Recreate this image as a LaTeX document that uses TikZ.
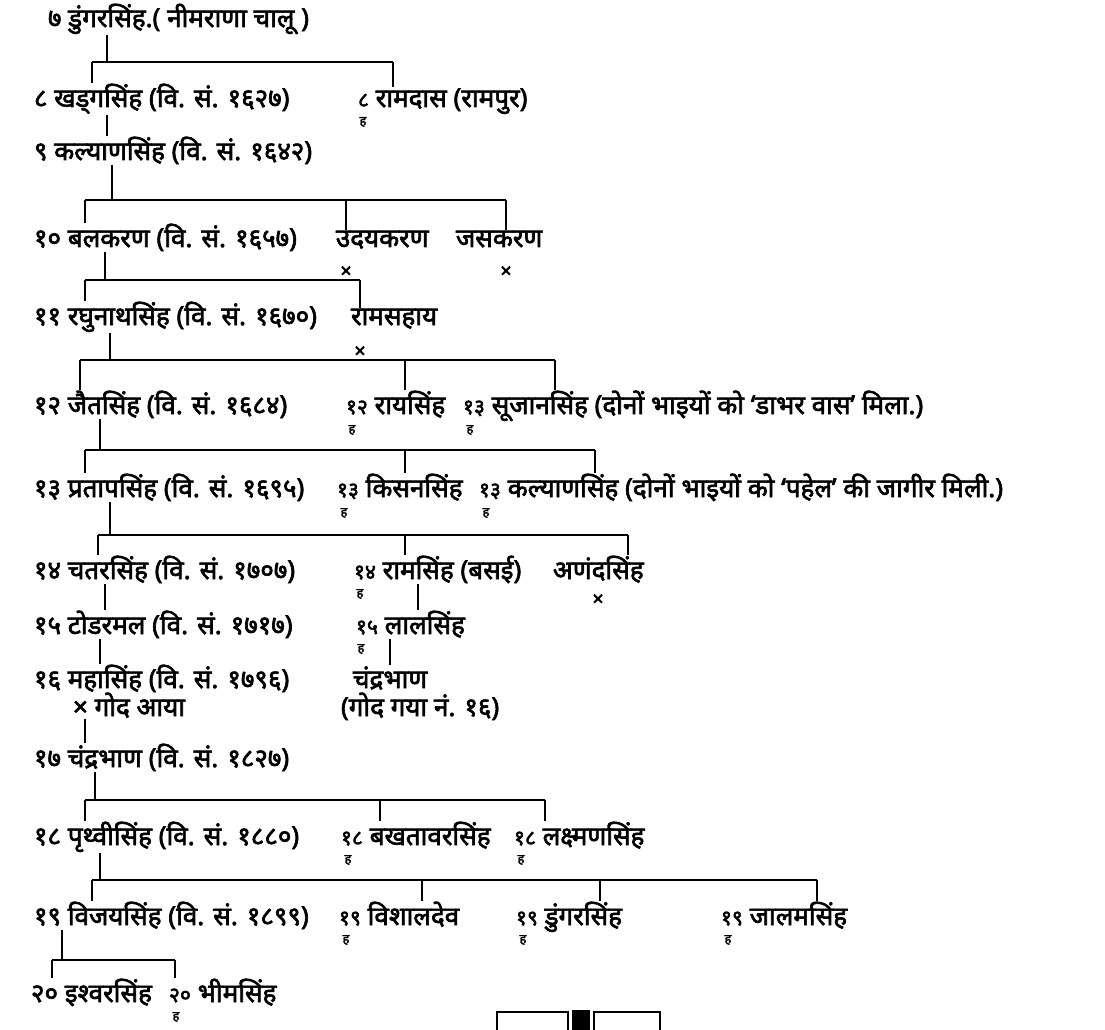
\documentclass[tikz,border=0pt]{standalone}
\usepackage{fontspec}
\newfontfamily\dev[Script=Devanagari,FakeBold=2.5]{Noto Sans}
\newcommand\snum[1]{{\fontsize{15}{16}\selectfont #1}}
\begin{document}
\begin{tikzpicture}[x=0.025cm,y=-0.025cm,
 nm/.style={anchor=base west,inner sep=0.5pt,font=\dev\fontsize{18.5}{21}\selectfont},
 mk/.style={inner sep=0pt,font=\dev\fontsize{9}{10}\selectfont},
 xx/.style={inner sep=0pt,font=\dev\fontsize{14}{16}\selectfont},
 ln/.style={line width=1.3pt}]
\useasboundingbox (0,0) rectangle (1105,1030);
% rows
\node[nm] (r1) at (47,27) {७ डुंगरसिंह.( नीमराणा चालू )};
\node[nm] (r2a) at (33,107) {८ खड्गसिंह (वि. सं. १६२७)};
\node[nm] (r2b) at (357,107) {\snum{८} रामदास (रामपुर)};
\node[mk] (m2b) at (363,122) {ह};
\node[nm] (r3) at (33,160) {९ कल्याणसिंह (वि. सं. १६४२)};
\node[nm] (r4a) at (33,247) {१० बलकरण (वि. सं. १६५७)};
\node[nm] (r4b) at (335,247) {उदयकरण};
\node[xx] (x4b) at (346,272) {×};
\node[nm] (r4c) at (455,247) {जसकरण};
\node[xx] (x4c) at (506,272) {×};
\node[nm] (r5a) at (33,325) {११ रघुनाथसिंह (वि. सं. १६७०)};
\node[nm] (r5b) at (350,325) {रामसहाय};
\node[xx] (x5b) at (360,352) {×};
\node[nm] (r6a) at (33,414) {१२ जैतसिंह (वि. सं. १६८४)};
\node[nm] (r6b) at (345,414) {\snum{१२} रायसिंह};
\node[mk] (m6b) at (352,430) {ह};
\node[nm] (r6c) at (462,414) {\snum{१३} सूजानसिंह (दोनों भाइयों को ‘डाभर वास’ मिला.)};
\node[mk] (m6c) at (470,430) {ह};
\node[nm] (r7a) at (33,497) {१३ प्रतापसिंह (वि. सं. १६९५)};
\node[nm] (r7b) at (336,497) {\snum{१३} किसनसिंह};
\node[mk] (m7b) at (344,513) {ह};
\node[nm] (r7c) at (478,497) {\snum{१३} कल्याणसिंह (दोनों भाइयों को ‘पहेल’ की जागीर मिली.)};
\node[mk] (m7c) at (486,513) {ह};
\node[nm] (r8a) at (33,579) {१४ चतरसिंह (वि. सं. १७०७)};
\node[nm] (r8b) at (353,579) {\snum{१४} रामसिंह (बसई)};
\node[mk] (m8b) at (360,594) {ह};
\node[nm] (r8c) at (552,579) {अणंदसिंह};
\node[xx] (x8c) at (598,600) {×};
\node[nm] (r9a) at (33,634) {१५ टोडरमल (वि. सं. १७१७)};
\node[nm] (r9b) at (355,634) {\snum{१५} लालसिंह};
\node[mk] (m9b) at (361,649) {ह};
\node[nm] (r10a) at (33,688) {१६ महासिंह (वि. सं. १७९६)};
\node[nm] (r10b) at (352,688) {चंद्रभाण};
\node[nm] (r10c) at (72,716) {× गोद आया};
\node[nm] (r10d) at (340,716) {(गोद गया नं. १६)};
\node[nm] (r11) at (33,767) {१७ चंद्रभाण (वि. सं. १८२७)};
\node[nm] (r12a) at (33,845) {१८ पृथ्वीसिंह (वि. सं. १८८०)};
\node[nm] (r12b) at (340,845) {\snum{१८} बखतावरसिंह};
\node[mk] (m12b) at (348,860) {ह};
\node[nm] (r12c) at (513,845) {\snum{१८} लक्ष्मणसिंह};
\node[mk] (m12c) at (521,860) {ह};
\node[nm] (r13a) at (33,925) {१९ विजयसिंह (वि. सं. १८९९)};
\node[nm] (r13b) at (338,925) {\snum{१९} विशालदेव};
\node[mk] (m13b) at (346,940) {ह};
\node[nm] (r13c) at (515,925) {\snum{१९} डुंगरसिंह};
\node[mk] (m13c) at (523,940) {ह};
\node[nm] (r13d) at (720,925) {\snum{१९} जालमसिंह};
\node[mk] (m13d) at (728,940) {ह};
\node[nm] (r14a) at (30,1002) {२० इश्वरसिंह};
\node[nm] (r14b) at (168,1002) {\snum{२०} भीमसिंह};
\node[mk] (m14b) at (176,1017) {ह};
% family 1
\coordinate (p1) at (107,62); \coordinate (a1) at (92,62); \coordinate (b1) at (393,62);
\draw[ln] (r1.south -| p1) -- (p1);
\draw[ln] (a1) -- (b1);
\draw[ln] (a1) -- (a1 |- r2a.north);
\draw[ln] (b1) -- (b1 |- r2b.north);
\coordinate (p2) at (107,0);
\draw[ln] (r2a.south -| p2) -- (r3.north -| p2);
% family 3
\coordinate (p3) at (112,200); \coordinate (a3) at (85,200); \coordinate (c3) at (346,200); \coordinate (b3) at (506,200);
\draw[ln] (r3.south -| p3) -- (p3);
\draw[ln] (a3) -- (b3);
\draw[ln] (a3) -- (a3 |- r4a.north);
\draw[ln] (c3) -- (c3 |- r4b.north);
\draw[ln] (b3) -- (b3 |- r4c.north);
% family 4
\coordinate (p4) at (105,280); \coordinate (a4) at (85,280); \coordinate (b4) at (360,280);
\draw[ln] (r4a.south -| p4) -- (p4);
\draw[ln] (a4) -- (b4);
\draw[ln] (a4) -- (a4 |- r5a.north);
\draw[ln] (b4) -- (b4 |- r5b.north);
% family 5
\coordinate (p5) at (110,360); \coordinate (a5) at (80,360); \coordinate (c5) at (405,360); \coordinate (b5) at (555,360);
\draw[ln] (r5a.south -| p5) -- (p5);
\draw[ln] (a5) -- (b5);
\draw[ln] (a5) -- (a5 |- r6a.north);
\draw[ln] (c5) -- (c5 |- r6b.north);
\draw[ln] (b5) -- (b5 |- r6c.north);
% family 6
\coordinate (p6) at (100,450); \coordinate (a6) at (85,450); \coordinate (c6) at (405,450); \coordinate (b6) at (595,450);
\draw[ln] (r6a.south -| p6) -- (p6);
\draw[ln] (a6) -- (b6);
\draw[ln] (a6) -- (a6 |- r7a.north);
\draw[ln] (c6) -- (c6 |- r7b.north);
\draw[ln] (b6) -- (b6 |- r7c.north);
% family 7
\coordinate (p7) at (110,535); \coordinate (a7) at (98,535); \coordinate (c7) at (405,535); \coordinate (b7) at (628,535);
\draw[ln] (r7a.south -| p7) -- (p7);
\draw[ln] (a7) -- (b7);
\draw[ln] (a7) -- (a7 |- r8a.north);
\draw[ln] (c7) -- (c7 |- r8b.north);
\draw[ln] (b7) -- (b7 |- r8c.north);
% single lines
\coordinate (p8) at (105,0); \coordinate (q8) at (418,0);
\draw[ln] (r8a.south -| p8) -- (r9a.north -| p8);
\draw[ln] (r8b.south -| q8) -- (r9b.north -| q8);
\coordinate (p9) at (100,0); \coordinate (q9) at (390,0);
\draw[ln] (r9a.south -| p9) -- (r10a.north -| p9);
\draw[ln] (r9b.south -| q9) -- (r10b.north -| q9);
\coordinate (p10) at (85,0);
\draw[ln] (r10c.south -| p10) -- (r11.north -| p10);
% family 11
\coordinate (p11) at (95,800); \coordinate (a11) at (85,800); \coordinate (c11) at (380,800); \coordinate (b11) at (545,800);
\draw[ln] (r11.south -| p11) -- (p11);
\draw[ln] (a11) -- (b11);
\draw[ln] (a11) -- (a11 |- r12a.north);
\draw[ln] (c11) -- (c11 |- r12b.north);
\draw[ln] (b11) -- (b11 |- r12c.north);
% family 12
\coordinate (p12) at (100,880); \coordinate (a12) at (92,880); \coordinate (c12) at (422,880); \coordinate (d12) at (600,880); \coordinate (b12) at (817,880);
\draw[ln] (r12a.south -| p12) -- (p12);
\draw[ln] (a12) -- (b12);
\draw[ln] (a12) -- (a12 |- r13a.north);
\draw[ln] (c12) -- (c12 |- r13b.north);
\draw[ln] (d12) -- (d12 |- r13c.north);
\draw[ln] (b12) -- (b12 |- r13d.north);
% family 13
\coordinate (p13) at (62,960); \coordinate (a13) at (52,960); \coordinate (b13) at (175,960);
\draw[ln] (r13a.south -| p13) -- (p13);
\draw[ln] (a13) -- (b13);
\draw[ln] (a13) -- (a13 |- r14a.north);
\draw[ln] (b13) -- (b13 |- r14b.north);
% bottom boxes
\draw[ln] (497,1040) -- (497,1012) -- (568,1012) -- (568,1040);
\fill (572,1010) rectangle (590,1040);
\draw[ln] (594,1040) -- (594,1012) -- (660,1012) -- (660,1040);
\end{tikzpicture}
\end{document}
